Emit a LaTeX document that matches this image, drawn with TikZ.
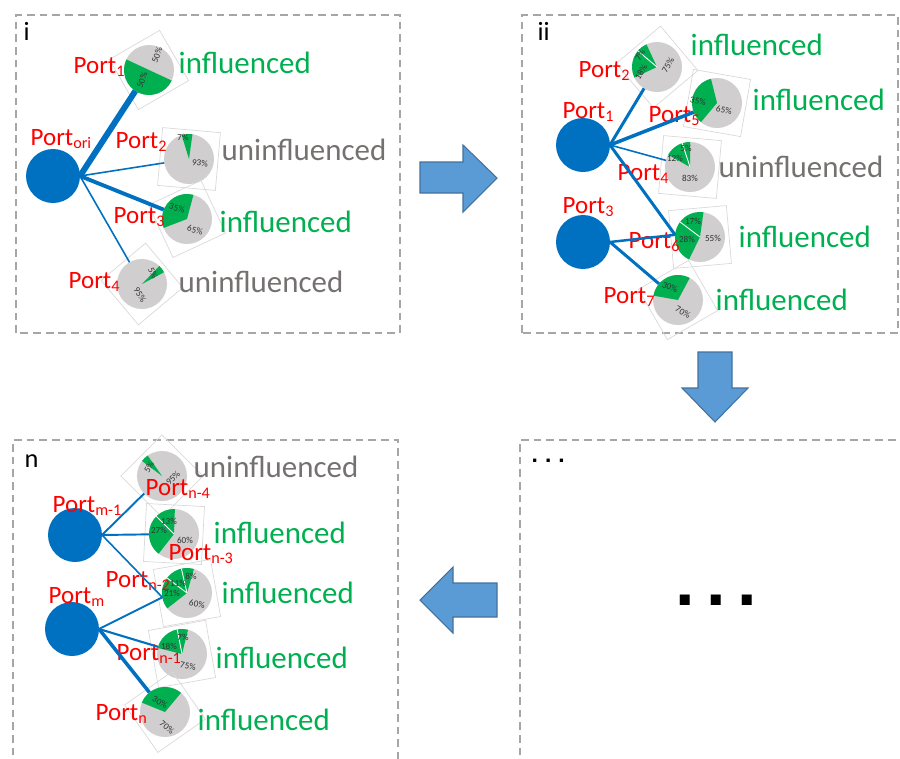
\documentclass[tikz,border=0pt]{standalone}
\usepackage{fontspec}
\setmainfont{Carlito}
\newfontfamily\dotfont{Liberation Sans}
\definecolor{portblue}{RGB}{0,112,192}
\definecolor{infgreen}{RGB}{0,176,80}
\definecolor{uninfgray}{RGB}{118,113,113}
\definecolor{piegray}{RGB}{208,206,206}
\definecolor{framegray}{RGB}{166,166,166}
\definecolor{arrowblue}{RGB}{91,155,213}
\definecolor{arrowedge}{RGB}{65,113,156}
\definecolor{pctgray}{RGB}{50,50,50}
\tikzset{
  panel/.style={draw=framegray,line width=0.6pt,dash pattern=on 2.2pt off 1.4pt},
  tag/.style={anchor=base west,inner sep=0pt,font=\fontsize{7.5}{8}\selectfont},
  port/.style={circle,fill=portblue,minimum size=0.54cm,inner sep=0pt,outer sep=0pt},
  pie/.style={circle,fill=piegray,minimum size=0.5cm,inner sep=0pt,outer sep=0pt},
  pieframe/.style={draw=black!15,line width=0.2pt,minimum size=0.58cm,inner sep=0pt},
  slice/.style={fill=infgreen},
  cut/.style={draw=white,line width=0.25pt},
  pct/.style={text=pctgray,inner sep=0pt,font=\fontsize{2.6}{3}\selectfont},
  plabel/.style={text=red,anchor=base west,inner sep=0pt,font=\fontsize{7.1}{8}\selectfont},
  inf/.style={text=infgreen,anchor=base west,inner sep=0pt,font=\fontsize{8.8}{10}\selectfont},
  uninf/.style={inf,text=uninfgray},
  link/.style={draw=portblue},
  blockarrow/.style={fill=arrowblue,draw=arrowedge,line width=0.3pt}
}
\newcommand{\portsub}[1]{Port\raisebox{-0.3ex}{\fontsize{4.6}{5}\selectfont #1}}
\newcommand{\pieslice}[3]{\fill[slice] (#1.center) -- ++(#2:0.25) arc (#2:#3:0.25) -- cycle;}
\newcommand{\piecut}[2]{\draw[cut] (#1.center) -- ++(#2:0.25);}

\begin{document}
\begin{tikzpicture}
    \useasboundingbox (0,0) rectangle (9,7.58);
    \draw[panel] (0.16,4.25) rectangle (4.00,7.43);
    \draw[panel] (5.22,4.25) rectangle (8.98,7.43);
    \draw[panel] (0.13,-0.1) -- (0.13,3.18) -- (3.98,3.18) -- (3.98,-0.1);
    \draw[panel] (5.20,-0.1) -- (5.20,3.18) -- (9.1,3.18);
    \node[tag] (ti) at (0.23,7.18) {i};
    \node[tag] (tii) at (5.37,7.18) {ii};
    \node[tag] (tn) at (0.24,2.91) {n};
    \node[anchor=base west,inner sep=0pt,font=\dotfont\bfseries\fontsize{6.5}{7}\selectfont] (tdots) at (5.31,2.96) {.\hspace{0.07cm}.\hspace{0.07cm}.};
    \node[anchor=base,inner sep=0pt,font=\dotfont\bfseries\fontsize{20}{22}\selectfont] (bigdots) at (7.16,1.525) {.\hspace{0.115cm}.\hspace{0.115cm}.};

    \draw[blockarrow] (4.20,5.96) -- (4.63,5.96) -- (4.63,6.13) -- (4.97,5.80)
      -- (4.63,5.46) -- (4.63,5.65) -- (4.20,5.65) -- cycle;
    \draw[blockarrow] (6.98,4.06) -- (7.32,4.06) -- (7.32,3.70) -- (7.48,3.70)
      -- (7.15,3.36) -- (6.82,3.70) -- (6.98,3.70) -- cycle;
    \draw[blockarrow] (4.97,1.75) -- (4.53,1.75) -- (4.53,1.91) -- (4.20,1.58)
      -- (4.53,1.25) -- (4.53,1.41) -- (4.97,1.41) -- cycle;

    % panel i
    \node[port] (ori) at (0.53,5.82) {};
    \node[plabel] (lori) at (0.30,6.13) {\portsub{ori}};
    \node[pie] (i1) at (1.49,6.88) {};
    \node[pieframe,rotate=30] (i1f) at (i1) {};
    \pieslice{i1}{155}{335}
    \node[pct,rotate=70] (i1a) at (1.57,7.03) {50\%};
    \node[pct,rotate=70] (i1b) at (1.42,6.78) {50\%};
    \node[plabel] (li1) at (0.73,6.85) {\portsub{1}};
    \node[inf] (ti1) at (1.78,6.85) {influenced};
    \node[pie] (i2) at (1.89,5.99) {};
    \node[pieframe,rotate=-5] (i2f) at (i2) {};
    \pieslice{i2}{82}{107}
    \node[pct] (i2a) at (1.83,6.21) {7\%};
    \node[pct,rotate=-5] (i2b) at (2.00,5.95) {93\%};
    \node[plabel] (li2) at (1.15,6.10) {\portsub{2}};
    \node[uninf] (ti2) at (2.21,5.98) {uninfluenced};
    \node[pie] (i3) at (1.87,5.39) {};
    \node[pieframe,rotate=25] (i3f) at (i3) {};
    \pieslice{i3}{75}{201}
    \node[pct,rotate=-15] (i3a) at (1.77,5.50) {35\%};
    \node[pct,rotate=-15] (i3b) at (1.95,5.28) {65\%};
    \node[plabel] (li3) at (1.13,5.35) {\portsub{3}};
    \node[inf] (ti3) at (2.19,5.26) {influenced};
    \node[pie] (i4) at (1.42,4.74) {};
    \node[pieframe,rotate=40] (i4f) at (i4) {};
    \pieslice{i4}{28}{46}
    \node[pct,rotate=-65] (i4a) at (1.53,4.85) {5\%};
    \node[pct,rotate=-60] (i4b) at (1.40,4.63) {95\%};
    \node[plabel] (li4) at (0.68,4.70) {\portsub{4}};
    \node[uninf] (ti4) at (1.78,4.66) {uninfluenced};
    \draw[link,line width=1.7pt] (ori.east) -- (i1);
    \draw[link,line width=0.45pt] (ori.east) -- (i2);
    \draw[link,line width=1.1pt] (ori.east) -- (i3);
    \draw[link,line width=0.45pt] (ori.east) -- (i4);

    % panel ii
    \node[port] (q1) at (5.83,6.13) {};
    \node[port] (q3) at (5.83,5.16) {};
    \node[plabel] (lq1) at (5.62,6.40) {\portsub{1}};
    \node[plabel] (lq3) at (5.62,5.45) {\portsub{3}};
    \node[pie] (q2) at (6.57,6.91) {};
    \node[pieframe,rotate=40] (q2f) at (q2) {};
    \pieslice{q2}{115}{205}
    \piecut{q2}{140}
    \node[pct,rotate=60] (q2a) at (6.40,7.03) {7\%};
    \node[pct,rotate=60] (q2b) at (6.41,6.86) {18\%};
    \node[pct,rotate=60] (q2c) at (6.68,6.93) {75\%};
    \node[plabel] (lq2) at (5.78,6.81) {\portsub{2}};
    \node[inf] (tq2) at (6.90,7.03) {influenced};
    \node[pie] (q5) at (7.17,6.55) {};
    \node[pieframe,rotate=-10] (q5f) at (q5) {};
    \pieslice{q5}{104}{230}
    \node[pct,rotate=-10] (q5a) at (6.98,6.57) {35\%};
    \node[pct,rotate=-10] (q5b) at (7.24,6.48) {65\%};
    \node[plabel] (lq5) at (6.48,6.36) {\portsub{5}};
    \node[inf] (tq5) at (7.52,6.48) {influenced};
    \node[pie] (q4) at (6.90,5.91) {};
    \node[pieframe,rotate=-5] (q4f) at (q4) {};
    \pieslice{q4}{90}{151}
    \piecut{q4}{108}
    \node[pct] (q4a) at (6.86,6.10) {5\%};
    \node[pct] (q4b) at (6.75,6.00) {12\%};
    \node[pct] (q4c) at (6.90,5.80) {83\%};
    \node[plabel] (lq4) at (6.17,5.78) {\portsub{4}};
    \node[uninf] (tq4) at (7.18,5.81) {uninfluenced};
    \node[pie] (q6) at (7.00,5.21) {};
    \node[pieframe,rotate=5] (q6f) at (q6) {};
    \pieslice{q6}{82}{244}
    \piecut{q6}{143}
    \node[pct] (q6a) at (6.93,5.37) {17\%};
    \node[pct] (q6b) at (6.87,5.19) {28\%};
    \node[pct] (q6c) at (7.13,5.20) {55\%};
    \node[plabel] (lq6) at (6.28,5.10) {\portsub{6}};
    \node[inf] (tq6) at (7.38,5.11) {influenced};
    \node[pie] (q7) at (6.78,4.58) {};
    \node[pieframe,rotate=30] (q7f) at (q7) {};
    \pieslice{q7}{62}{170}
    \node[pct,rotate=-20] (q7a) at (6.70,4.71) {30\%};
    \node[pct,rotate=-30] (q7b) at (6.83,4.46) {70\%};
    \node[plabel] (lq7) at (6.03,4.55) {\portsub{7}};
    \node[inf] (tq7) at (7.15,4.48) {influenced};
    \draw[link,line width=0.85pt] (q1.east) -- (q2);
    \draw[link,line width=1pt] (q1.east) -- (q5);
    \draw[link,line width=0.45pt] (q1.east) -- (q4);
    \draw[link,line width=0.85pt] (q1.east) -- (q6.175);
    \draw[link,line width=0.7pt] (q3.east) -- (q6.175);
    \draw[link,line width=0.85pt] (q3.east) -- (q7);

    % panel n
    \node[port] (m1) at (0.75,2.23) {};
    \node[port] (m0) at (0.72,1.29) {};
    \node[plabel] (lm1) at (0.52,2.46) {\portsub{m-1}};
    \node[plabel] (lm0) at (0.48,1.55) {\portsub{m}};
    \node[pie] (n4) at (1.62,2.82) {};
    \node[pieframe,rotate=45] (n4f) at (n4) {};
    \pieslice{n4}{125}{143}
    \node[pct,rotate=60] (n4a) at (1.49,2.91) {5\%};
    \node[pct,rotate=45] (n4b) at (1.73,2.80) {95\%};
    \node[plabel] (ln4) at (1.45,2.63) {\portsub{n-4}};
    \node[uninf] (tn4) at (1.93,2.81) {uninfluenced};
    \node[pie] (n3) at (1.74,2.24) {};
    \node[pieframe,rotate=-3] (n3f) at (n3) {};
    \pieslice{n3}{88}{232}
    \piecut{n3}{135}
    \node[pct] (n3a) at (1.69,2.37) {13\%};
    \node[pct] (n3b) at (1.59,2.28) {27\%};
    \node[pct] (n3c) at (1.85,2.18) {60\%};
    \node[plabel] (ln3) at (1.68,1.98) {\portsub{n-3}};
    \node[inf] (tn3) at (2.13,2.15) {influenced};
    \node[pie] (n2) at (1.87,1.65) {};
    \node[pieframe,rotate=10] (n2f) at (n2) {};
    \pieslice{n2}{74}{218}
    \piecut{n2}{103}
    \piecut{n2}{143}
    \node[pct] (n2a) at (1.91,1.82) {8\%};
    \node[pct] (n2b) at (1.78,1.75) {11\%};
    \node[pct] (n2c) at (1.72,1.65) {21\%};
    \node[pct,rotate=-10] (n2d) at (1.97,1.54) {60\%};
    \node[plabel] (ln2) at (1.05,1.71) {\portsub{n-2}};
    \node[inf] (tn2) at (2.21,1.55) {influenced};
    \node[pie] (n1) at (1.82,1.04) {};
    \node[pieframe,rotate=10] (n1f) at (n1) {};
    \pieslice{n1}{76}{166}
    \piecut{n1}{101}
    \node[pct] (n1a) at (1.83,1.21) {7\%};
    \node[pct] (n1b) at (1.69,1.12) {18\%};
    \node[pct,rotate=-10] (n1c) at (1.88,0.92) {75\%};
    \node[plabel] (ln1) at (1.16,0.98) {\portsub{n-1}};
    \node[inf] (tn1) at (2.15,0.90) {influenced};
    \node[pie] (n0) at (1.65,0.46) {};
    \node[pieframe,rotate=35] (n0f) at (n0) {};
    \pieslice{n0}{50}{158}
    \node[pct,rotate=-30] (n0a) at (1.60,0.56) {30\%};
    \node[pct,rotate=-40] (n0b) at (1.67,0.31) {70\%};
    \node[plabel] (ln0) at (0.95,0.38) {\portsub{n}};
    \node[inf] (tn0) at (1.97,0.28) {influenced};
    \draw[link,line width=0.55pt] (m1.east) -- (n4);
    \draw[link,line width=0.55pt] (m1.east) -- (n3);
    \draw[link,line width=0.45pt] (m1.east) -- (n2.190);
    \draw[link,line width=0.55pt] (m0.east) -- (n2.190);
    \draw[link,line width=0.6pt] (m0.east) -- (n1);
    \draw[link,line width=1pt] (m0.east) -- (n0);
\end{tikzpicture}
\end{document}
